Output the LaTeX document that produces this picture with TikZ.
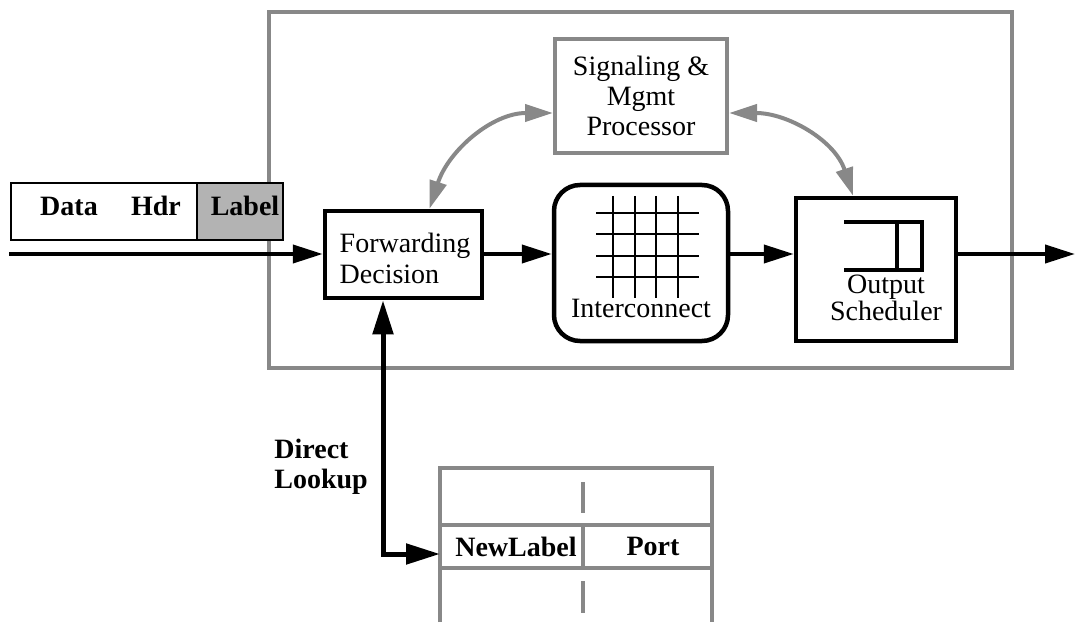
\documentclass[tikz,border=0pt]{standalone}
\usepackage{fontspec}
\setmainfont{Liberation Serif}
\usetikzlibrary{arrows.meta}
\definecolor{framegray}{RGB}{136,136,136}
\definecolor{labelgray}{RGB}{179,179,179}
\begin{document}
\begin{tikzpicture}[x=0.5pt,y=0.5pt,
  font=\fontsize{14pt}{15.5pt}\selectfont,
  blockbox/.style={draw=black, line width=2.25pt, inner sep=0pt},
  graybox/.style={draw=framegray, line width=2pt, inner sep=0pt, align=center},
  pktcell/.style={draw=black, line width=0.6pt, inner sep=0pt, minimum height=28.5pt},
  flow/.style={draw=black, line width=2pt, -{Triangle[length=15pt,width=9pt]}},
  lookup/.style={draw=black, line width=2.5pt,
    {Triangle[length=17pt,width=10pt]}-{Triangle[length=17pt,width=10pt]}},
  ctrl/.style={draw=framegray, line width=2pt,
    {Triangle[length=14pt,width=8.5pt]}-{Triangle[length=14pt,width=8.5pt]}},
  tabline/.style={draw=framegray, line width=2pt},
  boldtext/.style={font=\fontsize{14pt}{15pt}\selectfont\bfseries, inner sep=0pt},
  plain/.style={inner sep=0pt}
]
\useasboundingbox (0,0) rectangle (1075,622);

% router enclosure
\draw[framegray, line width=2pt] (269,254) rectangle (1012,610);

% incoming packet
\node[pktcell, minimum width=93pt, fill=white] (hdr) at (104,410.5) {};
\node[pktcell, minimum width=43pt, fill=labelgray] (lbl) at (240,410.5) {};
\node[boldtext, anchor=base] (data) at (69,406) {Data};
\node[boldtext, anchor=base] (hdrtext) at (156,406) {Hdr};
\node[boldtext, anchor=base] (lbltext) at (245,406) {Label};

% processing blocks
\node[graybox, minimum width=86pt, minimum height=57pt,
      font=\fontsize{14pt}{15pt}\selectfont] (sig) at (641,526)
  {Signaling \&\\Mgmt\\Processor};
\node[blockbox, minimum width=78.5pt, minimum height=43.5pt] (fwd) at (403.5,367.5) {};
\node[plain, align=left, font=\fontsize{14pt}{15.5pt}\selectfont] (fwdtext) at (405,363.5)
  {Forwarding\\Decision};
\node[blockbox, minimum width=87pt, minimum height=78pt, rounded corners=13pt] (ic) at (641,359) {};
\node[blockbox, minimum width=80pt, minimum height=71.5pt] (sch) at (876,352.5) {};

% crossbar inside the interconnect
\foreach \gx in {613,635,656,678}
  \draw[line width=0.7pt] (\gx,426) -- (\gx,324);
\foreach \gy in {409,388,366,345}
  \draw[line width=0.7pt] (596,\gy) -- (699,\gy);
\node[plain, anchor=base] (ictext) at (641,305) {Interconnect};

% queue inside the output scheduler
\draw[line width=1.8pt, line join=miter] (844,400) -- (922,400) -- (922,352) -- (844,352);
\draw[line width=1.8pt] (897,400) -- (897,352);
\node[plain, align=center, font=\fontsize{14pt}{12.5pt}\selectfont] (schtext) at (886,324)
  {Output\\Scheduler};

% data path
\coordinate (in) at (9,368);
\coordinate (out) at (1075,368);
\draw[flow] (in) -- (in -| fwd.west);
\draw[flow] (fwd.east |- in) -- (in -| ic.west);
\draw[flow] (ic.east |- in) -- (in -| sch.west);
\draw[flow] (sch.east |- in) -- (out);

% control paths
\draw[ctrl] ([xshift=13pt]fwd.north) to[out=72,in=180] ([yshift=-8.5pt]sig.west);
\draw[ctrl] ([yshift=-8.5pt]sig.east) to[out=0,in=108] ([xshift=-11.5pt]sch.north);

% label table
\draw[tabline] (440,0) -- (440,154) -- (712,154) -- (712,0);
\draw[tabline] (440,97) -- (712,97);
\draw[tabline] (440,54) -- (712,54);
\draw[tabline] (583,140) -- (583,109);
\draw[tabline] (583,97) -- (583,54);
\draw[tabline] (583,41) -- (583,9);
\node[boldtext] (newlabel) at (516,75.5) {NewLabel};
\node[boldtext] (port) at (653,75.5) {Port};

% table lookup
\coordinate (lk) at (383,68);
\coordinate (tabin) at (440,68);
\draw[lookup] (fwd.south -| lk) -- (lk) -- (tabin);
\node[boldtext, anchor=north west, align=left] (direct) at (274,183) {Direct\\Lookup};
\end{tikzpicture}
\end{document}
